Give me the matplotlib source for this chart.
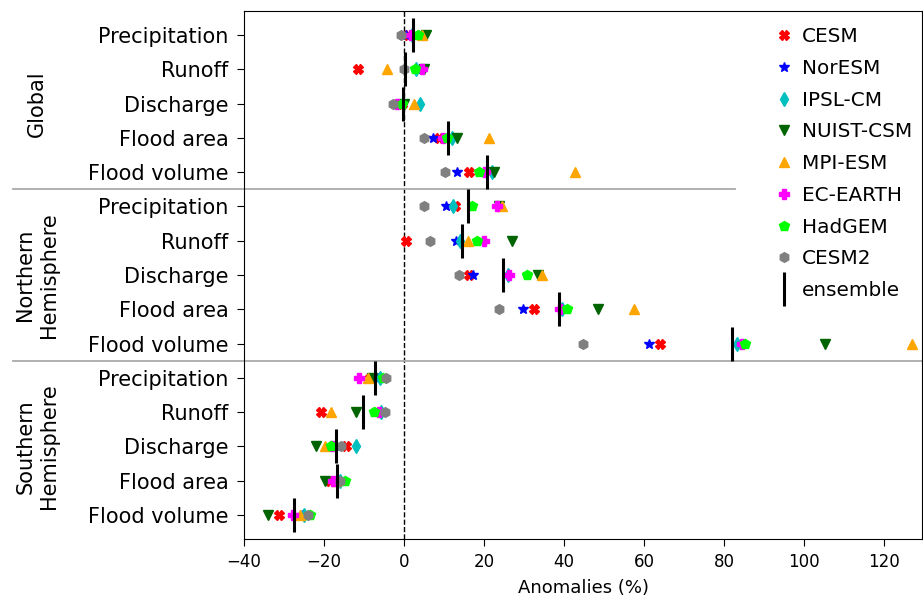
import matplotlib
matplotlib.use("Agg")
import matplotlib.pyplot as plt
import numpy as np

variables = ["Precipitation", "Runoff", "Discharge", "Flood area", "Flood volume"]
regions = ["Global", "Northern\nHemisphere", "Southern\nHemisphere"]
models = ["CESM", "NorESM", "IPSL-CM", "NUIST-CSM", "MPI-ESM", "EC-EARTH", "HadGEM", "CESM2"]
markers = ["X", "*", "d", "v", "^", "P", "p", "h"]
colors = ["red", "blue", "c", "darkgreen", "orange", "magenta", "lime", "gray"]

# rows: Global (P, R, D, FA, FV), NH (...), SH (...)
CESM      = [1.0, -11.6, -0.5, 8.8, 16.3,   12.8, 0.5, 16.3, 32.5, 64.1,   -8.5, -20.8, -14.5, -18.5, -31.2]
NorESM    = [0.5, 3.0, -1.0, 7.2, 13.2,     10.4, 13.1, 17.3, 29.8, 61.3,  -6.5, -6.0, -17.0, -17.0, -25.5]
IPSL_CM   = [2.0, 2.9, 4.0, 12.0, 21.9,     12.2, 14.0, 26.1, 39.5, 83.3,  -6.0, -5.8, -12.0, -16.0, -25.0]
NUIST_CSM = [5.5, 5.1, 0.0, 13.3, 22.5,     23.8, 27.1, 33.4, 48.4, 105.3, -7.9, -12.1, -22.0, -19.8, -33.9]
MPI_ESM   = [4.5, -4.3, 2.5, 21.3, 42.8,    24.4, 15.9, 34.4, 57.6, 126.9, -8.9, -18.3, -19.7, -17.0, -26.0]
EC_EARTH  = [1.8, 4.4, -1.8, 9.8, 20.3,     23.3, 20.1, 26.3, 39.0, 84.4,  -11.2, -6.2, -18.0, -17.8, -27.8]
HadGEM    = [3.5, 2.8, -0.6, 10.8, 18.7,    17.1, 18.3, 30.8, 40.7, 85.3,  -5.3, -7.4, -18.3, -14.8, -23.5]
CESM2     = [-0.7, 0.0, -2.7, 5.1, 10.3,    5.1, 6.4, 13.8, 23.8, 44.8,    -4.6, -4.8, -15.8, -16.0, -24.1]
ensemble  = [2.3, 0.2, -0.3, 11.1, 20.7,    15.9, 14.4, 24.8, 38.8, 81.9,  -7.3, -10.3, -17.0, -16.8, -27.5]

series = [CESM, NorESM, IPSL_CM, NUIST_CSM, MPI_ESM, EC_EARTH, HadGEM, CESM2]
ytick_labels = variables * 3
ypos = np.arange(len(ytick_labels))

fig = plt.figure(figsize=(9.23, 6.0), dpi=100)
ax = fig.add_axes([244 / 923, 1 - 539 / 600, 678 / 923, 528 / 600])

ax.axvline(0, color="black", linestyle="--", linewidth=1, zorder=1)
for name, vals, m, c in zip(models, series, markers, colors):
    ax.plot(vals, ypos, linestyle="none", marker=m, color=c, markersize=7,
            label=name, zorder=3)
ax.plot(ensemble, ypos, linestyle="none", marker="|", color="black",
        markersize=24, markeredgewidth=2.2, label="ensemble", zorder=4)

# group separators
ax.axhline(4.5, xmin=-0.34, xmax=0.724, color="#aaaaaa",
           linewidth=1.3, clip_on=False, zorder=2)
ax.axhline(9.5, xmin=-0.34, xmax=1.0, color="#aaaaaa",
           linewidth=1.3, clip_on=False, zorder=2)

ax.set_xlim(-40, 129.5)
ax.set_ylim(14.7, -0.7)
ax.set_yticks(ypos)
ax.set_yticklabels(ytick_labels, fontsize=15)
ax.tick_params(axis="y", length=4.8, pad=6.5)
ax.set_xticks(np.arange(-40, 121, 20))
ax.tick_params(axis="x", labelsize=12, length=4.8, pad=5)
ax.set_xlabel("Anomalies (%)", fontsize=13, labelpad=6)

for i, reg in enumerate(regions):
    fig.text(37 / 923, ax.transData.transform((0, 5 * i + 2))[1] / 600,
             reg, rotation=90, ha="center", va="center", fontsize=15,
             multialignment="center")

leg = ax.legend(loc="upper right", bbox_to_anchor=(1.0, 0.988), fontsize=14.4,
                frameon=False, handlelength=1.0, handletextpad=0.4,
                borderaxespad=0.1, labelspacing=0.635)
leg.set_zorder(5)

fig.savefig("out.png", dpi=100)
